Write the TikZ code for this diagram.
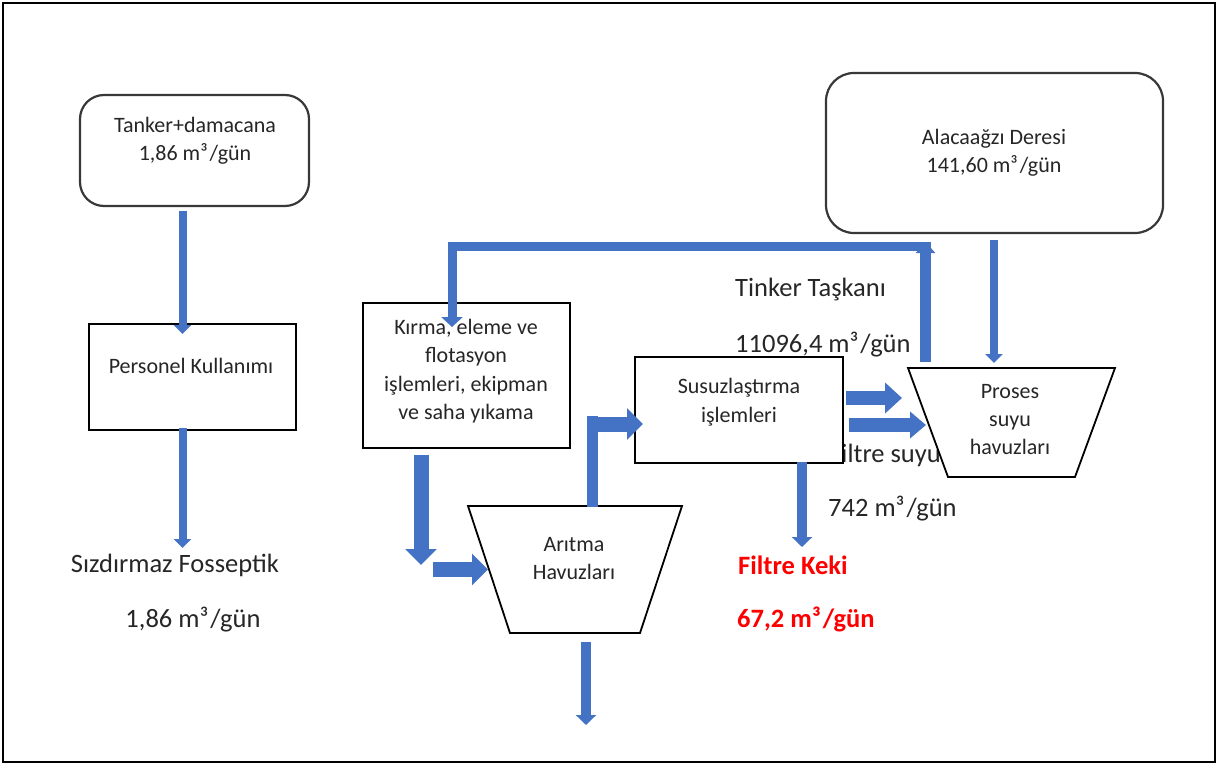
\documentclass[tikz,border=0pt]{standalone}
\usepackage{fontspec}
\setmainfont{Carlito}
\usetikzlibrary{arrows.meta}
\definecolor{flowblue}{HTML}{4472C4}
\definecolor{kekired}{HTML}{FF0000}
\definecolor{txtgray}{HTML}{262626}
\newcommand\mthree{m³\kern2pt}
\begin{document}
\begin{tikzpicture}[x=1pt,y=-1pt,
  box/.style={draw=black, line width=1.8pt, fill=white, inner sep=0pt, outer sep=0pt},
  rbox/.style={draw=black!78, line width=2.2pt, fill=white, rounded corners=24pt, inner sep=0pt, outer sep=0pt},
  trap/.style={draw=black, line width=1.8pt, fill=white, line join=miter},
  smalltxt/.style={font=\fontsize{22}{28.5}\selectfont, text=txtgray, align=center, inner sep=0pt},
  bigtxt/.style={font=\fontsize{26.5}{32}\selectfont, text=txtgray, inner sep=0pt},
  redtxt/.style={font=\fontsize{26.5}{32}\selectfont\bfseries, text=kekired, inner sep=0pt},
  thinarrow/.style={draw=flowblue, line width=8pt, -{Triangle[width=17pt,length=9pt]}},
  midarrow/.style={draw=flowblue, line width=9.5pt, -{Triangle[width=20pt,length=10pt]}},
  uparrow/.style={draw=flowblue, line width=11pt, -{Triangle[width=19pt,length=11pt]}},
  fatarrow/.style={draw=flowblue, line width=15pt, -{Triangle[width=31pt,length=16pt]}},
  bar/.style={draw=flowblue, line width=11pt},
  recirc/.style={draw=flowblue, line width=9pt, line join=miter, -{Triangle[width=21pt,length=10pt]}}
]
\useasboundingbox (0,0) rectangle (1218,765);
\draw[black, line width=2.4pt] (3,3) rectangle (1215,762);

% text hidden partly behind the dewatering box
\node[bigtxt, anchor=east] (tfsuyu) at (941,455) {Filtre suyu};

% boxes
\node[rbox, minimum width=229pt, minimum height=111pt] (tanker) at (194.5,150.5) {};
\node[box, minimum width=207pt, minimum height=106pt] (pers) at (192.5,377) {};
\node[box, minimum width=207pt, minimum height=145pt] (kirma) at (466.5,375.5) {};
\node[box, minimum width=208pt, minimum height=106pt] (susuz) at (739,410) {};
\node[rbox, rounded corners=28pt, minimum width=337pt, minimum height=160pt] (alaca) at (994.5,153) {};

% trapezoids
\draw[trap] (908,368) coordinate (pros-tl) -- (1115,368) coordinate (pros-tr)
  -- (1075,477) coordinate (pros-br) -- (948,477) coordinate (pros-bl) -- cycle;
\draw[trap] (468,506) coordinate (arit-tl) -- (682,506) coordinate (arit-tr)
  -- (640,633) coordinate (arit-br) -- (510,633) coordinate (arit-bl) -- cycle;

% box texts
\node[smalltxt] (ttank) at (195,141) {Tanker+damacana\\1,86 \mthree/gün};
\node[smalltxt] (tpers) at (191,366) {Personel Kullanımı};
\node[smalltxt] (tkirma) at (466,371) {Kırma, eleme ve\\flotasyon\\işlemleri, ekipman\\ve saha yıkama};
\node[smalltxt] (tsusuz) at (739,402) {Susuzlaştırma\\işlemleri};
\node[smalltxt] (talaca) at (994,153) {Alacaağzı Deresi\\141,60 \mthree/gün};
\node[smalltxt, font=\fontsize{22}{28}\selectfont] (tproses) at (1010,420) {Proses\\suyu\\havuzları};
\node[smalltxt, font=\fontsize{22}{28}\selectfont] (taritma) at (574,559) {Arıtma\\Havuzları};

% free labels
\node[bigtxt] (tsizd) at (175,565) {Sızdırmaz Fosseptik};
\node[bigtxt] (tsizdq) at (193,620) {1,86 \mthree/gün};
\node[bigtxt, anchor=west] (ttinker) at (735,290) {Tinker Taşkanı};
\node[bigtxt, anchor=west] (ttinkq) at (735,345) {11096,4 \mthree/gün};
\node[bigtxt, anchor=west] (t742) at (828,509) {742 \mthree/gün};
\node[redtxt, anchor=west] (tkeki) at (738,565) {Filtre Keki};
\node[redtxt, anchor=west] (tkekiq) at (737,619) {67,2 \mthree/gün};

% named free ends
\coordinate (sizd-in) at (182.5,548);
\coordinate (pros-in) at (994,363);
\coordinate (pros-out) at (925.5,362);
\coordinate (tink-top) at (925.5,242);
\coordinate (tink-bar) at (931,246);
\coordinate (recirc-corner) at (452,246);
\coordinate (keki-in) at (802,547);
\coordinate (kirma-out) at (421,455);
\coordinate (kirma-down) at (421,565);
\coordinate (arit-in-start) at (433,569.5);
\coordinate (arit-in) at (488,569.5);
\coordinate (arit-up) at (592.5,507);
\coordinate (arit-corner) at (592.5,416);
\coordinate (corner-start) at (587,424);
\coordinate (arit-down) at (586,642);
\coordinate (arit-end) at (586,725);

% connectors
\draw[thinarrow] ([xshift=-12pt,yshift=-5pt]tanker.south) -- ([xshift=-10pt,yshift=-10pt]pers.north);
\draw[thinarrow] ([xshift=-10pt,yshift=2pt]pers.south) -- (sizd-in);
\draw[thinarrow] ([xshift=-0.5pt,yshift=-7pt]alaca.south) -- (pros-in);
\draw[uparrow] (pros-out) -- (tink-top);
\draw[recirc] (tink-bar) -- (recirc-corner) -- ([xshift=-14.5pt,yshift=-24pt]kirma.north);
\draw[fatarrow, line width=14pt, -{Triangle[width=30pt,length=17pt]}] ([xshift=3pt,yshift=12pt]susuz.east) -- ++(56,0) coordinate (pros-in1);
\draw[fatarrow, line width=14pt, -{Triangle[width=26pt,length=16pt]}] ([xshift=6pt,yshift=-15pt]susuz.east) -- ++(77,0) coordinate (pros-in2);
\draw[midarrow] ([xshift=63pt,yshift=1pt]susuz.south) -- (keki-in);
\draw[fatarrow] (kirma-out) -- (kirma-down);
\draw[fatarrow] (arit-in-start) -- (arit-in);
\draw[bar] (arit-up) -- (arit-corner);
\draw[fatarrow] (corner-start) -- ([xshift=8pt,yshift=-14pt]susuz.west);
\draw[midarrow, line width=10pt] (arit-down) -- (arit-end);
\end{tikzpicture}
\end{document}
